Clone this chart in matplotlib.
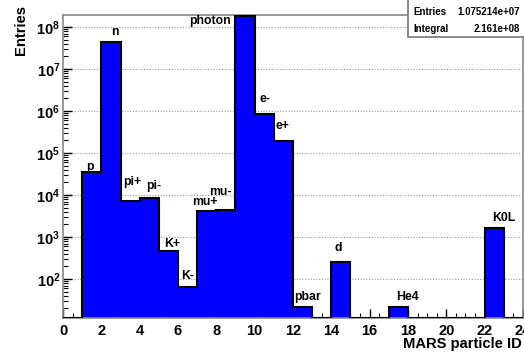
import numpy as np
import matplotlib
matplotlib.use("Agg")
import matplotlib.pyplot as plt
from matplotlib.ticker import FuncFormatter, LogLocator, MultipleLocator
from matplotlib.patches import Rectangle

plt.rcParams['font.family'] = ['Liberation Sans', 'DejaVu Sans']
plt.rcParams['font.weight'] = 'bold'
plt.rcParams['mathtext.fontset'] = 'custom'
plt.rcParams['mathtext.rm'] = 'Liberation Sans:bold'
plt.rcParams['mathtext.it'] = 'Liberation Sans:bold'
plt.rcParams['mathtext.bf'] = 'Liberation Sans:bold'

# histogram of MARS particle IDs, one bin per ID (edges 0..24)
edges = np.arange(0, 25)
counts = [0, 3.5e4, 4.4e7, 7.3e3, 8.5e3, 4.6e2, 66, 4.1e3, 4.3e3, 1.8e8,
          8.5e5, 1.96e5, 22, 0, 250, 0, 0, 22, 0, 0, 0, 0, 1.6e3, 0]

particles = ['p', 'n', 'pi+', 'pi-', 'K+', 'K-', 'mu+', 'mu-', 'photon',
             'e-', 'e+', 'pbar', 'd', 'He4', 'K0L']
particle_bins = [1, 2, 3, 4, 5, 6, 7, 8, 9, 10, 11, 12, 14, 17, 22]
# label offsets in pixels from the bin top
label_dx = [-2, 4, 2, 4, 4, 0, -2, -6, -14, 1, -1, 5, -3, 9, 10]
label_dy = [5, 10, 19, 12, 7, 11, 9, 18, -5, 15, 15, 10, 14, 10, 10]

entries = "1.075214e+07"
integral = "2.161e+08"

ylo, yhi = 11.8, 1.93e8

fig = plt.figure(figsize=(5.24, 3.53), dpi=100)
ax = fig.add_axes([63/524, 1 - 318/353, 460/524, 303/353])

vals = np.maximum(np.array(counts, dtype=float), ylo)
ax.stairs(vals, edges, baseline=ylo, fill=True, color='#0000ff', zorder=2)
ax.stairs(vals, edges, baseline=ylo, color='black', lw=1.5, zorder=3)

ax.set_yscale('log')
ax.set_ylim(ylo, yhi)
ax.set_xlim(0, 24)

ax.yaxis.set_major_locator(LogLocator(base=10, numticks=20))
ax.yaxis.set_minor_locator(LogLocator(base=10, subs=np.arange(2, 10), numticks=20))
ax.yaxis.set_major_formatter(FuncFormatter(lambda v, p: r'$10^{%d}$' % round(np.log10(v))))
ax.xaxis.set_major_locator(MultipleLocator(2))
ax.xaxis.set_minor_locator(MultipleLocator(0.5))

ax.tick_params(which='both', direction='in', top=False, right=False, labelsize=10.5, color='black')
ax.tick_params(which='major', length=6.5, width=1)
ax.tick_params(which='minor', length=3.5, width=0.8)
ax.tick_params(axis='x', pad=4.5)
ax.tick_params(axis='y', pad=2)

ax.yaxis.grid(True, which='major', linestyle=(0, (1, 1.5)), color='#999999', lw=0.8)
ax.set_axisbelow(True)
for s in ax.spines.values():
    s.set_color('#888888')
    s.set_linewidth(1.2)

for name, b, dx, dy in zip(particles, particle_bins, label_dx, label_dy):
    ha = 'right' if name == 'photon' else 'center'
    ax.annotate(name, xy=(b + 0.5, counts[b]), xytext=(dx, dy),
                textcoords='offset pixels', ha=ha, va='center',
                fontsize=8.8, fontweight='bold', zorder=5)

fig.text(21/524, 1 - 5/353, 'Entries', rotation=90, ha='center', va='top',
         fontsize=10.6, fontweight='bold')
fig.text(522/524, 1 - 344/353, 'MARS particle ID', ha='right', va='center',
         fontsize=10.6, fontweight='bold')

# stats box
box = Rectangle((408/524, 1 - 37/353), 120/524, 40/353, transform=fig.transFigure,
                facecolor='white', edgecolor='#777777', lw=1.2, zorder=10)
fig.add_artist(box)
fig.text(413/524, 1 - 12/353, 'Entries', ha='left', va='center', fontsize=7,
         fontweight='bold', zorder=11)
fig.text(520/524, 1 - 12/353, entries, ha='right', va='center', fontsize=7,
         fontweight='bold', zorder=11)
fig.text(413/524, 1 - 29/353, 'Integral', ha='left', va='center', fontsize=7,
         fontweight='bold', zorder=11)
fig.text(520/524, 1 - 29/353, integral, ha='right', va='center', fontsize=7,
         fontweight='bold', zorder=11)

fig.savefig('out.png', dpi=100)
